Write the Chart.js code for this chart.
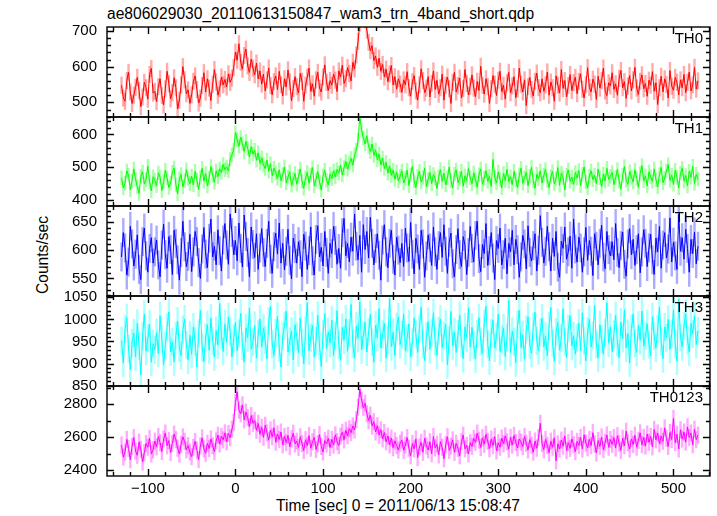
<!DOCTYPE html>
<html>
<head>
<meta charset="utf-8">
<script src="https://cdn.jsdelivr.net/npm/chart.js@4.4.1/dist/chart.umd.min.js"></script>
<style>
    body { margin: 0; background: #fff; }
    #wrap { position: relative; width: 717px; height: 516px; font-family: "Liberation Sans", Arial, sans-serif; color: #000; }
    #wrap canvas { position: absolute; left: 0; }
    .txt { position: absolute; font-size: 15.6px; line-height: 17px; white-space: nowrap; }
</style>
</head>
<body>
<div id="wrap">
    <div class="txt" style="left:107px;top:5px">ae806029030_20110613150847_wam3_trn_4band_short.qdp</div>
    <div class="txt" style="left:42px;top:255px;transform:translate(-50%,-50%) rotate(-90deg)">Counts/sec</div>
    <div class="txt" style="left:398px;top:497px;transform:translateX(-50%)">Time [sec] 0 = 2011/06/13 15:08:47</div>
</div>
<script>
// light curve bins: start time and width in seconds
const binStart = -130;
const binSize = 2;

const th0 = [
    548,512,503,561,584,529,497,520,542,570,533,488,515,556,541,509,578,595,526,531,
    502,544,566,519,493,538,587,552,510,527,569,541,482,506,549,600,563,524,535,497,
    521,559,574,536,498,512,547,583,529,566,540,505,551,592,557,520,538,571,549,564,
    543,580,556,568,597,641,618,664,612,593,631,649,602,584,621,596,577,610,566,588,
    551,579,532,563,596,547,521,558,574,536,587,549,518,566,543,591,557,504,539,572,
    544,526,581,559,503,548,570,596,531,552,517,563,584,540,529,571,605,556,533,561,
    548,579,562,530,588,571,604,553,566,597,581,560,612,594,633,671,722,748,764,731,
    702,668,645,659,617,630,598,624,587,606,571,593,558,580,603,549,572,537,566,551,
    528,563,549,586,541,517,558,575,532,506,549,594,561,527,540,572,515,553,588,536,
    562,523,541,579,506,548,571,538,497,556,584,529,547,568,512,539,592,553,521,545,
    577,540,516,559,533,601,548,523,566,544,497,538,575,551,519,562,587,530,548,509,
    555,584,527,546,572,513,538,596,551,529,563,491,544,570,536,518,559,582,541,527,
    566,531,549,585,520,557,541,503,574,548,526,592,539,561,515,547,578,533,555,570,
    524,558,580,537,512,549,597,542,529,565,551,508,573,540,561,596,532,519,555,546,
    583,536,552,520,567,589,541,558,511,546,575,532,563,598,540,522,559,577,538,553,
    517,562,548,586,531,555,494,541,573,529,566,550,512,589,545,534,570,556,521,563,
    541,578,527,556,585,532,549,598,537,560
];

const th1 = [
    468,437,452,489,476,431,458,495,463,441,420,472,486,449,462,503,455,428,471,460,
    444,483,470,429,456,491,467,438,452,485,498,447,419,464,478,440,459,493,466,450,
    473,446,488,461,432,470,497,458,481,443,467,502,476,454,489,471,495,484,509,492,
    501,489,524,538,552,606,583,564,591,572,548,579,557,531,563,540,552,521,544,512,
    529,507,496,522,488,511,474,497,483,466,492,459,478,501,452,470,486,445,463,481,
    448,472,495,457,436,468,484,451,477,499,443,462,487,455,430,474,491,460,446,479,
    465,489,471,493,482,507,476,499,518,494,512,527,506,538,552,583,655,612,589,571,
    596,562,548,571,536,553,522,540,507,528,496,515,482,504,475,491,463,486,458,473,
    489,452,467,491,444,476,503,459,438,472,488,455,469,497,441,463,484,450,478,466,
    435,471,493,457,482,446,468,501,460,437,479,492,453,466,488,442,474,459,496,468,
    450,483,462,439,477,495,448,466,490,457,473,441,524,470,452,486,463,437,481,459,
    494,456,471,447,488,462,439,475,497,451,468,484,443,473,500,458,436,479,465,489,
    452,476,493,460,438,471,487,449,465,499,445,482,468,431,476,492,457,470,448,484,
    467,490,444,478,501,456,437,473,489,462,476,450,494,468,441,480,458,497,463,472,
    484,447,469,493,458,433,476,502,461,448,487,470,455,492,466,439,481,505,459,474,
    443,486,471,457,495,462,440,478,499,453,467,489,508,460,476,448,491,469,437,482,
    497,458,475,443,488,469,503,451,479,464
];

const th2 = [
    588,631,604,556,579,642,611,572,593,627,566,548,615,639,590,561,603,622,577,597,
    618,574,553,609,646,592,568,624,601,557,635,612,583,547,596,651,606,571,589,628,
    562,597,633,615,578,550,602,640,593,569,621,655,588,607,574,636,599,563,618,647,
    609,575,664,631,592,617,581,648,603,570,662,624,596,553,641,610,587,629,566,604,
    638,596,571,612,651,584,559,606,630,593,648,577,612,565,598,637,582,549,621,603,
    577,615,592,553,628,607,566,599,641,581,556,619,643,588,605,572,633,596,559,612,
    594,642,617,575,603,568,631,656,590,612,579,623,598,664,607,583,626,561,645,601,
    633,586,658,612,574,603,629,591,547,618,645,597,569,612,635,584,556,623,600,578,
    612,571,639,604,580,649,593,558,621,602,566,635,611,552,590,627,604,573,641,597,
    566,608,631,587,645,598,559,614,630,576,553,601,638,592,571,624,609,557,596,642,
    603,579,626,651,585,562,610,594,647,573,599,631,586,548,617,603,639,574,592,621,
    558,612,597,635,574,619,601,552,588,626,611,567,643,596,581,608,629,563,600,661,
    614,577,598,642,606,563,621,589,633,570,552,616,603,641,584,597,625,568,655,602,
    579,623,604,561,597,640,582,617,598,555,629,607,574,612,644,588,567,633,601,590,
    615,583,647,596,569,608,632,575,554,611,638,592,619,573,601,629,560,597,636,612,
    571,604,628,583,557,621,597,642,568,609,631,586,602,657,579,614,590,566,663,598,
    622,584,637,603,561,619,594,632,576,607
];

const th3 = [
    952,901,978,1004,933,886,947,969,915,991,940,874,962,1012,928,957,989,903,945,931,
    970,923,1008,955,897,941,982,1017,926,949,904,963,996,935,918,977,1001,942,908,964,
    921,983,950,892,968,1021,937,904,959,988,930,1003,951,915,975,942,1036,964,927,990,
    948,1006,972,915,957,993,929,968,1014,940,903,981,958,1026,933,949,986,912,967,1001,
    937,981,953,910,996,1029,944,918,969,1007,935,892,962,985,1019,926,950,973,908,988,
    961,924,1003,947,899,975,1038,929,958,986,915,951,1009,940,893,967,1013,934,972,946,
    998,918,963,1020,941,907,982,953,1001,928,969,1034,944,912,985,957,1040,931,964,993,
    926,972,1011,948,903,987,959,1024,935,966,991,912,954,1047,938,971,918,983,1006,943,
    965,1012,929,957,990,914,948,1003,966,925,979,1028,944,906,961,995,932,970,1015,950,
    918,974,1001,936,962,989,897,953,1018,940,972,925,967,1009,946,911,983,958,1026,937,
    982,941,910,967,1004,950,923,991,1030,944,906,969,998,935,961,1012,927,955,981,916,
    959,1043,925,973,949,902,988,1021,936,965,910,977,1006,942,923,984,1016,951,929,970,
    1003,938,962,917,985,1027,946,905,971,993,930,958,1024,949,914,979,1008,940,963,921,
    958,992,929,1015,951,906,973,1000,937,964,1031,944,912,988,955,921,970,1038,946,983,
    927,966,1009,948,913,994,957,1022,935,968,901,979,1012,946,925,987,952,1019,939,962,
    990,943,917,1006,962,935,978,1028,949,911,983,958,1000,932,967,1021,944,905,1046,959,
    938,985,1013,952,926,991,967,1008,943,974
];

const th0123 = [
    2552,2478,2509,2586,2531,2462,2543,2597,2515,2489,2570,2526,2448,2504,2561,2538,2592,2497,2523,2575,
    2540,2603,2566,2512,2588,2625,2547,2579,2506,2561,2618,2584,2533,2497,2556,2601,2574,2522,2548,2509,
    2481,2537,2574,2520,2463,2546,2595,2528,2501,2562,2530,2589,2547,2512,2577,2612,2558,2604,2583,2626,
    2571,2622,2596,2648,2691,2812,2875,2764,2742,2796,2705,2752,2718,2663,2731,2684,2702,2641,2683,2617,
    2660,2598,2672,2626,2581,2643,2602,2657,2569,2618,2585,2631,2552,2604,2566,2610,2541,2589,2623,2558,
    2576,2537,2602,2561,2518,2584,2547,2609,2532,2571,2598,2524,2560,2615,2543,2509,2579,2558,2593,2536,
    2586,2551,2614,2572,2548,2605,2629,2583,2642,2608,2651,2627,2668,2643,2706,2782,2893,2824,2779,2806,
    2742,2701,2733,2667,2694,2631,2669,2612,2645,2589,2628,2571,2606,2553,2594,2535,2577,2549,2521,2562,
    2583,2519,2551,2597,2532,2486,2561,2528,2589,2475,2540,2568,2507,2593,2546,2522,2571,2498,2603,2534,
    2557,2491,2572,2538,2468,2553,2602,2519,2545,2583,2507,2562,2531,2486,2574,2612,2528,2550,2497,2566,
    2543,2591,2568,2624,2581,2537,2596,2556,2617,2574,2529,2588,2548,2603,2515,2565,2538,2594,2559,2607,
    2572,2526,2598,2551,2610,2567,2534,2589,2569,2542,2603,2563,2521,2585,2550,2508,2576,2532,2597,2684,
    2561,2523,2586,2549,2504,2575,2538,2596,2455,2559,2527,2582,2544,2607,2518,2566,2531,2589,2553,2512,
    2574,2549,2598,2527,2614,2563,2535,2586,2548,2627,2558,2503,2579,2542,2601,2524,2567,2613,2538,2585,
    2556,2597,2533,2608,2562,2519,2593,2547,2636,2565,2527,2589,2554,2612,2539,2580,2626,2553,2598,2545,
    2619,2568,2604,2541,2647,2583,2625,2559,2606,2574,2656,2592,2543,2628,2585,2714,2566,2617,2527,2645,
    2588,2631,2569,2662,2597,2625,2553,2648,2584,2612
];

// 1-sigma errors (counts/sec) per band
const errors = [23, 21, 25, 31, 50];
const bandNames = ['TH0', 'TH1', 'TH2', 'TH3', 'TH0123'];

// panel look: colours and axis ranges
const panels = [
    { values: th0, color: '#ff0000', light: 'rgba(255,0,0,0.33)', min: 459, max: 711, minor: 20, major: 100 },
    { values: th1, color: '#00ff00', light: 'rgba(0,255,0,0.33)', min: 382, max: 653, minor: 20, major: 100 },
    { values: th2, color: '#0000ff', light: 'rgba(0,0,255,0.33)', min: 519, max: 678, minor: 10, major: 50 },
    { values: th3, color: '#00ffff', light: 'rgba(0,255,255,0.33)', min: 849, max: 1053, minor: 10, major: 50 },
    { values: th0123, color: '#ff00ff', light: 'rgba(255,0,255,0.33)', min: 2363, max: 2911, minor: 100, major: 200 }
];
const panelEdges = [27, 117, 206, 296, 386, 476];
const FONT = '"Liberation Sans", Arial, sans-serif';

Chart.defaults.font.family = FONT;
Chart.defaults.font.size = 15;
Chart.defaults.color = '#000';

function isMultiple(v, step) {
    const r = Math.abs(v / step - Math.round(v / step));
    return r < 1e-6;
}

// box with inward ticks on all four sides plus the band name
const qdpFrame = {
    id: 'qdpFrame',
    afterDatasetsDraw(chart, args, opts) {
        const { ctx, chartArea: a } = chart;
        const x = chart.scales.x, y = chart.scales.y;
        ctx.save();
        ctx.strokeStyle = '#000';
        ctx.lineWidth = 1.4;
        ctx.strokeRect(a.left, a.top, a.right - a.left, a.bottom - a.top);
        ctx.beginPath();
        x.ticks.forEach(t => {
            if (!isMultiple(t.value, 20)) return;
            const px = Math.round(x.getPixelForValue(t.value)) + 0.5;
            const len = isMultiple(t.value, 100) ? 7 : 4;
            ctx.moveTo(px, a.bottom); ctx.lineTo(px, a.bottom - len);
            ctx.moveTo(px, a.top); ctx.lineTo(px, a.top + len);
        });
        y.ticks.forEach(t => {
            if (!isMultiple(t.value, opts.minor)) return;
            const py = Math.round(y.getPixelForValue(t.value)) + 0.5;
            const len = isMultiple(t.value, opts.major) ? 7 : 4;
            ctx.moveTo(a.left, py); ctx.lineTo(a.left + len, py);
            ctx.moveTo(a.right, py); ctx.lineTo(a.right - len, py);
        });
        ctx.stroke();
        ctx.fillStyle = '#000';
        ctx.font = '15px ' + FONT;
        ctx.textAlign = 'right';
        ctx.textBaseline = 'alphabetic';
        ctx.fillText(opts.label, a.right - 7, a.top + 16);
        ctx.restore();
    }
};

const wrap = document.getElementById('wrap');

panels.forEach((p, i) => {
    const last = i === panels.length - 1;
    const pad = 30;
    const xAxisH = last ? 30 : 0;
    const h = panelEdges[i + 1] - panelEdges[i];

    const canvas = document.createElement('canvas');
    canvas.width = 717;
    canvas.height = h + pad + (last ? xAxisH : pad);
    canvas.style.top = (panelEdges[i] - pad) + 'px';
    wrap.appendChild(canvas);

    const points = p.values.map((v, k) => ({ x: binStart + k * binSize, y: v }));
    const bars = p.values.map((v, k) => ({ x: binStart + k * binSize, y: [v - errors[i], v + errors[i]] }));

    new Chart(canvas.getContext('2d'), {
        type: 'line',
        data: {
            datasets: [
                {
                    type: 'line',
                    data: points,
                    borderColor: p.color,
                    borderWidth: 1,
                    pointRadius: 0,
                    tension: 0,
                    order: 0
                },
                {
                    type: 'bar',
                    data: bars,
                    backgroundColor: p.light,
                    borderWidth: 0,
                    barPercentage: 1,
                    categoryPercentage: 1,
                    grouped: false,
                    order: 1
                }
            ]
        },
        options: {
            responsive: false,
            animation: false,
            events: [],
            layout: { padding: { top: pad, bottom: last ? 0 : pad, left: 0, right: 7 } },
            plugins: {
                legend: { display: false },
                tooltip: { enabled: false },
                qdpFrame: { label: bandNames[i], minor: p.minor, major: p.major }
            },
            scales: {
                x: {
                    type: 'linear',
                    min: -146.6,
                    max: 541.7,
                    offset: false,
                    grid: { display: false, drawTicks: false },
                    border: { display: false },
                    ticks: {
                        display: last,
                        stepSize: 20,
                        includeBounds: false,
                        autoSkip: false,
                        maxRotation: 0,
                        padding: 4,
                        callback: v => isMultiple(v, 100) ? String(v).replace('-', '\u2212') : ''
                    },
                    afterFit: s => { s.height = xAxisH; }
                },
                y: {
                    min: p.min,
                    max: p.max,
                    grid: { display: false, drawTicks: false },
                    border: { display: false },
                    ticks: {
                        stepSize: p.minor,
                        includeBounds: false,
                        autoSkip: false,
                        padding: 10,
                        callback: v => isMultiple(v, p.major) ? String(v) : ''
                    },
                    afterFit: s => { s.width = 107; }
                }
            }
        },
        plugins: [qdpFrame]
    });
});
</script>
</body>
</html>
